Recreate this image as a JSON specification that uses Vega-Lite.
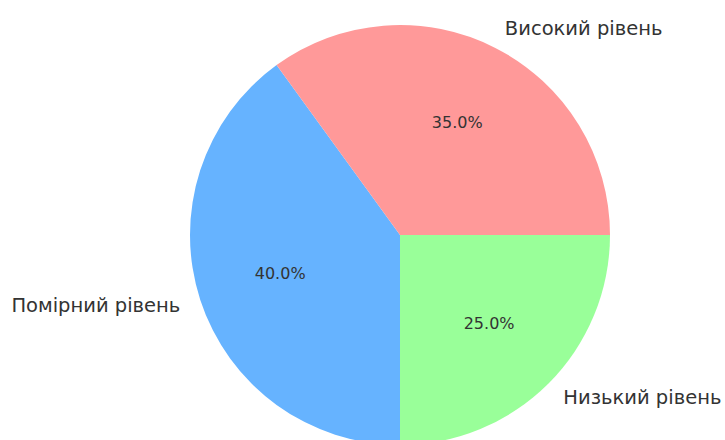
{
  "$schema": "https://vega.github.io/schema/vega-lite/v6.json",
  "autosize": "none",
  "width": 420,
  "height": 420,
  "padding": {"left": 190, "top": 25, "right": 115, "bottom": 0},
  "background": "white",
  "config": {"view": {"stroke": null}},
  "data": {
    "values": [
      {"cat": "Низький рівень", "pct": 25, "label": "25.0%", "ord": 1},
      {"cat": "Помірний рівень", "pct": 40, "label": "40.0%", "ord": 2},
      {"cat": "Високий рівень", "pct": 35, "label": "35.0%", "ord": 3}
    ]
  },
  "encoding": {
    "theta": {"field": "pct", "type": "quantitative", "stack": true, "scale": {"range": [1.5707963, 7.8539816]}},
    "order": {"field": "ord", "type": "quantitative"}
  },
  "layer": [
    {
      "mark": {"type": "arc", "outerRadius": 210},
      "encoding": {
        "color": {"field": "cat", "type": "nominal", "legend": null,
          "scale": {"domain": ["Низький рівень", "Помірний рівень", "Високий рівень"], "range": ["#99ff99", "#66b3ff", "#ff9999"]}}
      }
    },
    {
      "mark": {"type": "text", "radius": 126, "font": "DejaVu Sans", "fontSize": 16, "color": "#333333"},
      "encoding": {"text": {"field": "label"}}
    },
    {
      "mark": {"type": "text", "radius": 231, "font": "DejaVu Sans", "fontSize": 19.5, "color": "#333333", "baseline": "middle",
        "align": {"expr": "datum.cat === 'Помірний рівень' ? 'right' : 'left'"}},
      "encoding": {"text": {"field": "cat"}}
    }
  ]
}
